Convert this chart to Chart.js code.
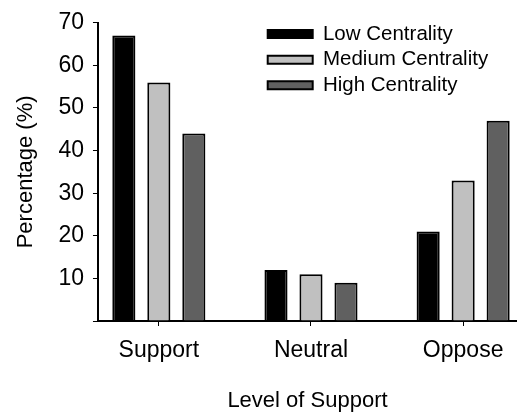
<!DOCTYPE html>
<html>
<head>
<meta charset="utf-8">
<script src="https://cdn.jsdelivr.net/npm/chart.js@4.4.1/dist/chart.umd.min.js"></script>
<style>
  html, body { margin: 0; padding: 0; background: #fff; overflow: hidden; }
</style>
</head>
<body>
<canvas id="myChart" width="517" height="414"></canvas>
<script>
// categories along the x axis
const categories = ["Support", "Neutral", "Oppose"];
// series (percentages)
const lowCentrality = [67, 12, 21];
const mediumCentrality = [56, 11, 33];
const highCentrality = [44, 9, 47];
// y tick labels
const yTicks = [10, 20, 30, 40, 50, 60, 70];

Chart.defaults.font.family = "'Liberation Sans', Arial, sans-serif";
Chart.defaults.color = "#000";

// bars sit on a linear x scale so the first group can sit off the y axis
const toPoints = (values) => values.map((v, i) => ({ x: i + 1, y: v }));

// move the legend to the top right corner of the plot
const legendPlacer = {
    id: "legendPlacer",
    afterLayout(chart) {
        const lg = chart.legend;
        if (!lg) return;
        const w = lg.width, h = lg.height;
        lg.left = 262.5;
        lg.top = 18.5;
        lg.right = lg.left + w;
        lg.bottom = lg.top + h;
    }
};

const ctx = document.getElementById("myChart").getContext("2d");
new Chart(ctx, {
    type: "bar",
    data: {
        datasets: [
            { label: "Low Centrality", data: toPoints(lowCentrality), backgroundColor: "#000000", borderColor: "#000", borderWidth: 2 },
            { label: "Medium Centrality", data: toPoints(mediumCentrality), backgroundColor: "#c0c0c0", borderColor: "#000", borderWidth: 2 },
            { label: "High Centrality", data: toPoints(highCentrality), backgroundColor: "#606060", borderColor: "#000", borderWidth: 2 }
        ]
    },
    options: {
        responsive: false,
        animation: false,
        devicePixelRatio: 1,
        categoryPercentage: 0.69,
        barPercentage: 0.66,
        layout: { padding: { top: 21, right: 0, bottom: 0, left: 0 } },
        plugins: {
            tooltip: { enabled: false },
            legend: {
                position: "chartArea",
                align: "start",
                labels: {
                    boxWidth: 45,
                    boxHeight: 8,
                    padding: 5.2,
                    color: "#000",
                    font: { size: 20.5 }
                }
            }
        },
        scales: {
            x: {
                type: "linear",
                offset: false,
                min: 0.6,
                max: 3.354,
                afterBuildTicks(scale) {
                    scale.ticks = categories.map((c, i) => ({ value: i + 1 }));
                },
                ticks: {
                    padding: 11,
                    font: { size: 23 },
                    callback: (v) => categories[v - 1]
                },
                grid: { display: true, offset: false, drawOnChartArea: false, drawTicks: true, tickLength: 5, color: "#000", lineWidth: 1 },
                border: { display: true, color: "#000", width: 2 },
                title: {
                    display: true,
                    text: "Level of Support",
                    font: { size: 22 },
                    padding: { top: 12, bottom: 0 }
                }
            },
            y: {
                min: 0,
                max: 70,
                afterBuildTicks(scale) {
                    scale.ticks = [0].concat(yTicks).map((v) => ({ value: v }));
                },
                ticks: {
                    padding: 9,
                    font: { size: 23 },
                    callback: (v) => (v === 0 ? "" : v)
                },
                grid: { display: true, drawOnChartArea: false, drawTicks: true, tickLength: 5, color: "#000", lineWidth: 1 },
                border: { display: true, color: "#000", width: 2 },
                title: {
                    display: true,
                    text: "Percentage (%)",
                    font: { size: 22 },
                    padding: { top: 13, bottom: 10 }
                }
            }
        }
    },
    plugins: [legendPlacer]
});
</script>
</body>
</html>
